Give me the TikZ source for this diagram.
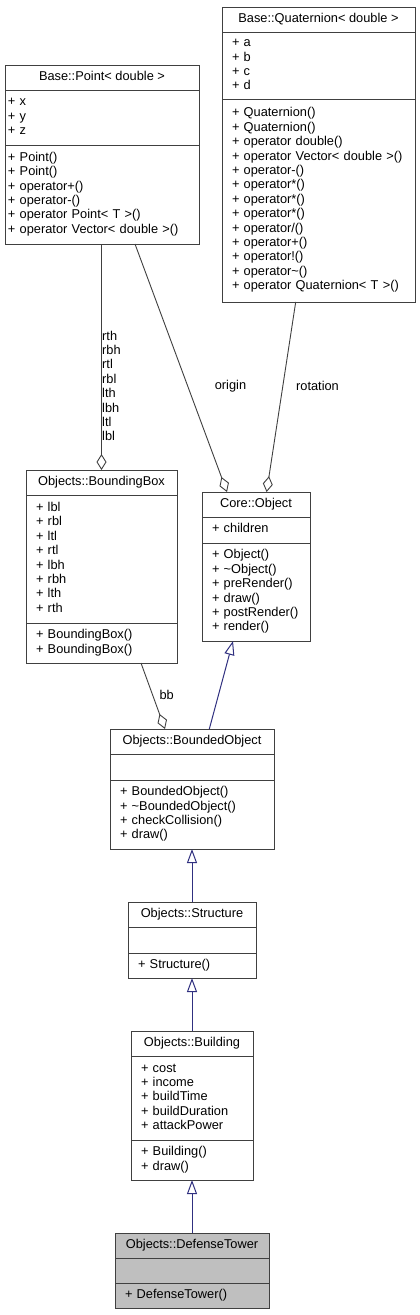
\documentclass[tikz,border=0pt]{standalone}
\usepackage{fontspec}
\setmainfont{Liberation Sans}
\usetikzlibrary{positioning,arrows.meta}
\definecolor{Frame}{RGB}{64,64,64}
\definecolor{Assoc}{RGB}{64,64,64}
\definecolor{Inherit}{RGB}{48,48,128}
\definecolor{Focus}{RGB}{191,191,191}
\tikzstyle{cls}=[rectangle,draw=Frame,line width=1pt,fill=white,outer sep=0pt,inner ysep=0pt,inner xsep=10pt,
                 font=\fontsize{12.8}{14.4}\selectfont,align=left,
                 execute at begin node=\strut,execute at end node=\strut]
\tikzstyle{cls title}=[cls,inner xsep=0pt,align=center,minimum height=25pt]
\tikzstyle{focus}=[fill=Focus]
\tikzstyle{agg}=[draw=Assoc,line width=0.9pt,-{Diamond[fill=white,length=16pt,width=10pt]}]
\tikzstyle{inh}=[draw=Inherit,line width=1pt,-{Triangle[fill=white,length=14pt,width=10pt]}]
\tikzstyle{role}=[font=\fontsize{12.8}{14.4}\selectfont,inner sep=0pt,align=left]

\begin{document}
\begin{tikzpicture}[x=1pt,y=-1pt]

    \fill[white] (0,0) rectangle (420,1315);

    % templates at the top
    \node[cls title,minimum width=194pt,anchor=north west] (point) at (5,65) {Base::Point< double >};
    \node[cls,below=0pt of point,text width=188pt,inner xsep=3pt,minimum height=55pt] (point-attr)
        {+ x\\+ y\\+ z};
    \node[cls,below=0pt of point-attr,text width=188pt,inner xsep=3pt,minimum height=99pt] (point-ops)
        {+ Point()\\+ Point()\\+ operator+()\\+ operator-()\\+ operator Point< T >()\\+ operator Vector< double >()};

    \node[cls title,minimum width=193pt,anchor=north west] (quat) at (222,7) {Base::Quaternion< double >};
    \node[cls,below=0pt of quat,text width=173pt,minimum height=67pt] (quat-attr)
        {+ a\\+ b\\+ c\\+ d};
    \node[cls,below=0pt of quat-attr,text width=173pt,minimum height=203pt] (quat-ops)
        {+ Quaternion()\\+ Quaternion()\\+ operator double()\\+ operator Vector< double >()\\+ operator-()\\
         + operator*()\\+ operator*()\\+ operator*()\\+ operator/()\\+ operator+()\\+ operator!()\\
         + operator\textasciitilde()\\+ operator Quaternion< T >()};

    % members
    \node[cls title,minimum width=151pt,anchor=north west] (bbox) at (26,470) {Objects::BoundingBox};
    \node[cls,below=0pt of bbox,text width=131pt,minimum height=128pt] (bbox-attr)
        {+ lbl\\+ rbl\\+ ltl\\+ rtl\\+ lbh\\+ rbh\\+ lth\\+ rth};
    \node[cls,below=0pt of bbox-attr,text width=131pt,minimum height=40pt] (bbox-ops)
        {+ BoundingBox()\\+ BoundingBox()};

    \node[cls title,minimum width=108pt,anchor=north west] (obj) at (202,492) {Core::Object};
    \node[cls,below=0pt of obj,text width=88pt,minimum height=26pt] (obj-attr) {+ children};
    \node[cls,below=0pt of obj-attr,text width=88pt,minimum height=98pt] (obj-ops)
        {+ Object()\\+ \textasciitilde Object()\\+ preRender()\\+ draw()\\+ postRender()\\+ render()};

    % inheritance chain
    \node[cls title,minimum width=164pt,anchor=north west] (bounded) at (110,729) {Objects::BoundedObject};
    \node[cls,below=0pt of bounded,text width=144pt,minimum height=26pt] (bounded-attr) {};
    \node[cls,below=0pt of bounded-attr,text width=144pt,minimum height=69pt] (bounded-ops)
        {+ BoundedObject()\\+ \textasciitilde BoundedObject()\\+ checkCollision()\\+ draw()};

    \node[cls title,minimum width=128pt,anchor=north west] (structure) at (128,902) {Objects::Structure};
    \node[cls,below=0pt of structure,text width=108pt,minimum height=26pt] (structure-attr) {};
    \node[cls,below=0pt of structure-attr,text width=108pt,minimum height=25pt] (structure-ops)
        {+ Structure()};

    \node[cls title,minimum width=122pt,anchor=north west] (building) at (131,1031) {Objects::Building};
    \node[cls,below=0pt of building,text width=102pt,minimum height=84pt] (building-attr)
        {+ cost\\+ income\\+ buildTime\\+ buildDuration\\+ attackPower};
    \node[cls,below=0pt of building-attr,text width=102pt,minimum height=40pt] (building-ops)
        {+ Building()\\+ draw()};

    \node[cls title,focus,minimum width=154pt,anchor=north west] (tower) at (115,1233) {Objects::DefenseTower};
    \node[cls,focus,below=0pt of tower,text width=134pt,minimum height=25pt] (tower-attr) {};
    \node[cls,focus,below=0pt of tower-attr,text width=134pt,minimum height=25pt] (tower-ops)
        {+ DefenseTower()};

    % usage
    \draw[agg] (point-ops.south -| bbox.north) -- (bbox.north);
    \draw[agg] ([xshift=130pt]point-ops.south west) -- ([xshift=25pt]obj.north west);
    \draw[agg] ([xshift=73.7pt]quat-ops.south west) -- ([xshift=64.6pt]obj.north west);
    \draw[agg] ([xshift=115pt]bbox-ops.south west) -- ([xshift=55pt]bounded.north west);

    \node[role,anchor=west] (corners) at (102,386) {rth\\rbh\\rtl\\rbl\\lth\\lbh\\ltl\\lbl};
    \node[role] (origin) at (230.5,386) {origin};
    \node[role] (rotation) at (317.5,386) {rotation};
    \node[role] (bb) at (166.7,695) {bb};

    % inheritance
    \draw[inh] ([xshift=99.3pt]bounded.north west) -- ([xshift=31pt]obj-ops.south west);
    \draw[inh] (structure.north) -- (bounded-ops.south);
    \draw[inh] (building.north) -- (structure-ops.south);
    \draw[inh] (tower.north) -- (building-ops.south);

\end{tikzpicture}
\end{document}
